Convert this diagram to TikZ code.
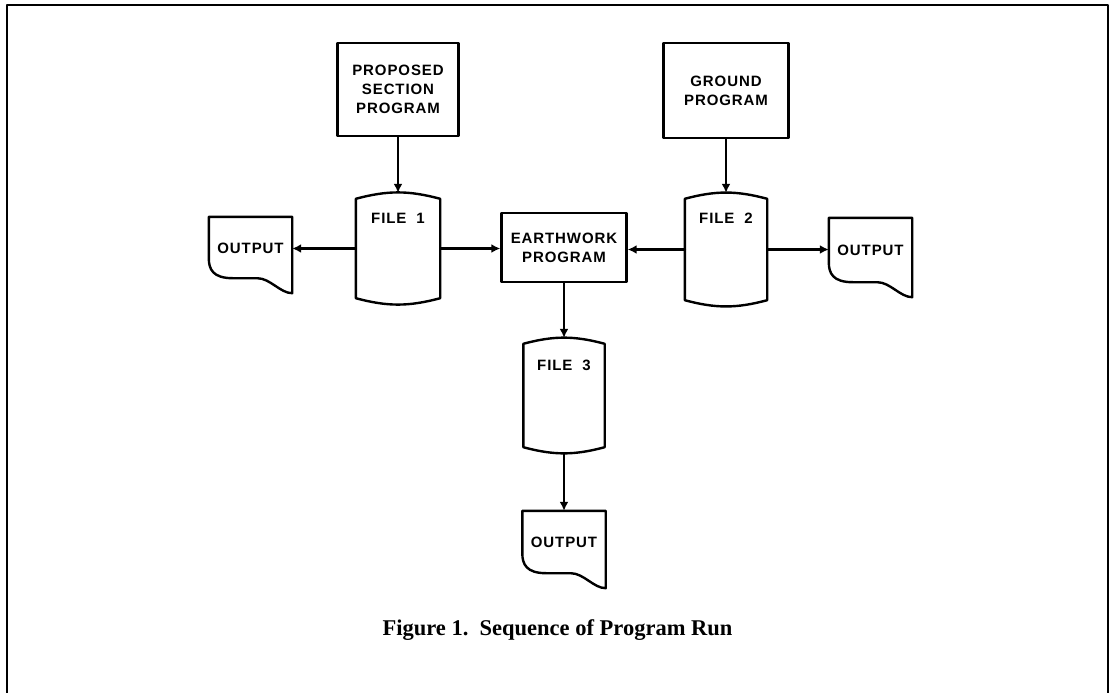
\documentclass[tikz,border=0pt]{standalone}
\usepackage{fontspec}
\setmainfont{Liberation Serif}
\newfontfamily\letterfont[LetterSpace=6]{Liberation Sans}
\usetikzlibrary{arrows.meta}
\tikzset{
 progbox/.style={draw, line width=2.4pt, align=center, inner sep=0pt},
 filebox/.style={inner sep=0pt, minimum width=#1},
 outbox/.style={inner sep=0pt, minimum width=83pt},
 filetext/.style={inner sep=0pt, anchor=north, yshift=-14.5pt},
 outtext/.style={inner sep=0pt, yshift=7pt},
 flow/.style={line width=2.4pt, -{Latex[length=9pt,width=9pt]}}
}
\newcommand\drum[1]{\draw[line width=2.4pt] (#1.north west) to[bend left=15] (#1.north east) -- (#1.south east) to[bend left=15] (#1.south west) -- cycle;}
\newcommand\docshape[1]{\draw[line width=2.4pt] (#1.north west) -- (#1.north east) -- (#1.south east)
 .. controls ([xshift=-12pt]#1.south east) and ([xshift=-22pt,yshift=15pt]#1.south east) .. ([xshift=-35pt,yshift=15pt]#1.south east)
 -- ([xshift=24pt,yshift=15pt]#1.south west)
 .. controls ([xshift=4pt,yshift=15pt]#1.south west) and ([yshift=24pt]#1.south west) .. ([yshift=35pt]#1.south west) -- cycle;}
\begin{document}
\begin{tikzpicture}[line cap=round,line join=round,x=1pt,y=-1pt,font=\letterfont\bfseries\fontsize{15}{19}\selectfont]
 \useasboundingbox (0,0) rectangle (1114,693);
 \draw[line width=2.6pt] (7,693) -- (7,5) -- (1108,5) -- (1108,693);
 % programs
 \node[progbox, minimum width=121pt, minimum height=93pt] (prop) at (398,89.5) {PROPOSED\\SECTION\\PROGRAM};
 \node[progbox, minimum width=125pt, minimum height=95pt] (ground) at (726,90.5) {GROUND\\PROGRAM};
 \node[progbox, minimum width=125pt, minimum height=69pt] (earth) at (564,247.5) {EARTHWORK\\PROGRAM};
 % files
 \node[filebox=84pt, minimum height=99pt, label={[filetext]north:FILE\hspace{10pt}1}] (file1) at (398,248.5) {};
 \node[filebox=82pt, minimum height=101pt, label={[filetext]north:FILE\hspace{10pt}2}] (file2) at (726,249.5) {};
 \node[filebox=81pt, minimum height=103pt, label={[filetext,yshift=-2pt]north:FILE\hspace{10pt}3}] (file3) at (564,395.5) {};
 \drum{file1} \drum{file2} \drum{file3}
 % outputs
 \node[outbox, minimum height=76pt, label={[outtext]center:OUTPUT}] (out1) at (250.5,255) {};
 \node[outbox, minimum height=79pt, label={[outtext]center:OUTPUT}] (out2) at (870.5,257.5) {};
 \node[outbox, minimum height=77pt, label={[outtext]center:OUTPUT}] (out3) at (564,549.5) {};
 \docshape{out1} \docshape{out2} \docshape{out3}
 % flow
 \draw[flow] (prop.south) -- ([yshift=6pt]file1.north);
 \draw[flow] (ground.south) -- ([yshift=6pt]file2.north);
 \draw[flow] (file1.west) -- (file1.west -| out1.east);
 \draw[flow] (file1.east) -- (file1.east -| earth.west);
 \draw[flow] (file2.west) -- (file2.west -| earth.east);
 \draw[flow] (file2.east) -- (file2.east -| out2.west);
 \draw[flow] (earth.south) -- ([yshift=6pt]file3.north);
 \draw[flow] ([yshift=-6pt]file3.south) -- (out3.north);
 \node (caption) at (557.5,630) {\normalfont\fontsize{22.5}{27}\selectfont\bfseries Figure 1.\ \ Sequence of Program Run};
\end{tikzpicture}
\end{document}
